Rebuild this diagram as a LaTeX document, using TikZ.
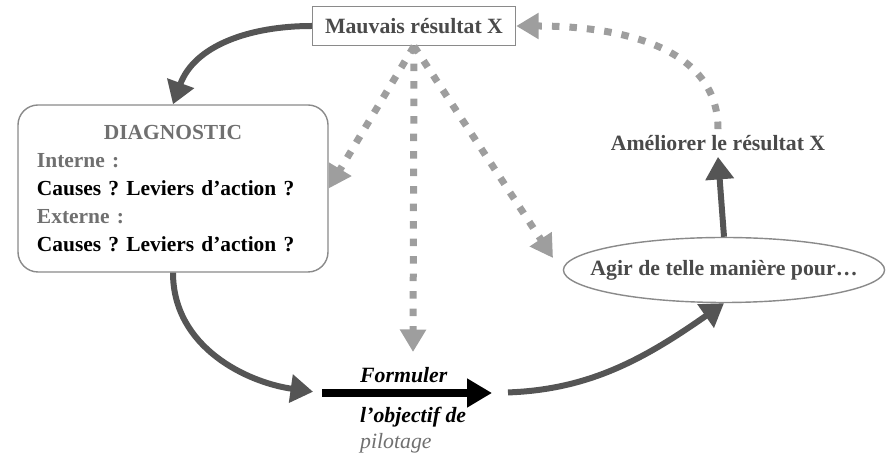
\documentclass[tikz,border=0pt]{standalone}
\usepackage{fontspec}
\setmainfont{Liberation Serif}
\usetikzlibrary{arrows.meta,shapes.geometric}
\definecolor{flowgray}{HTML}{555555}
\definecolor{hintgray}{HTML}{9E9E9E}
\definecolor{framegray}{HTML}{8A8A8A}
\definecolor{labelgray}{HTML}{4A4A4A}
\definecolor{softgray}{HTML}{707070}
\frenchspacing

\begin{document}
\begin{tikzpicture}[x=0.2mm, y=0.2mm,
  box/.style = {draw=framegray, line width=0.8pt, fill=white, text=labelgray, font=\bfseries\fontsize{12.4}{14}\selectfont},
  flow/.style = {draw=flowgray, line width=1.2mm, -{Triangle[length=4.5mm, width=5.5mm]}},
  hint/.style = {draw=hintgray, line width=1.4mm, dash pattern=on 1.5mm off 2mm, -{Triangle[length=4.5mm, width=5mm]}},
  goal/.style = {anchor=west, font=\bfseries\itshape\fontsize{12.4}{14}\selectfont}]
\useasboundingbox (0,0) rectangle (893,457);

\node[box, minimum width=4.06cm, minimum height=0.78cm] (mauvais) at (414,431) {Mauvais résultat X};
\node[box, rounded corners=4mm, minimum width=6.2cm, minimum height=3.34cm, text width=5.44cm, align=left, text=softgray, font=\bfseries\fontsize{12.2}{15.9}\selectfont] (diag) at (173,268.5)
  {\makebox[\linewidth]{DIAGNOSTIC}\\ Interne :\\ \textcolor{black}{Causes~? Leviers d’action~?}\\ Externe :\\ \textcolor{black}{Causes~? Leviers d’action~?}};
\node[box, ellipse, inner xsep=-0.4cm, minimum width=6.36cm, minimum height=1.3cm] (agir) at (724,187) {Agir de telle manière pour…};
\node[text=labelgray, font=\bfseries\fontsize{12.4}{14}\selectfont] (ameliorer) at (718,314) {Améliorer le résultat X};

\node[goal] (formuler) at (354,82) {Formuler};
\node[goal] (objectif) at (354,40) {l’objectif de};
\node[goal, font=\itshape\fontsize{12.4}{14}\selectfont, text=softgray] (pilotage) at (354,14) {pilotage};

\coordinate (fstart) at (322,64);
\coordinate (fend) at (492,64);
\coordinate (hintmid) at (413,105);
\coordinate (hintright) at (553,199);

\draw[flow] (mauvais.west) to[out=180, in=70] (diag.north);
\draw[flow, shorten >=1.8mm] (diag.south) to[out=-90, in=172] (fstart);
\draw[draw=black, line width=1.6mm, -{Triangle[length=5mm, width=5.5mm]}] (fstart) -- (fend);
\draw[flow, shorten <=3.2mm] (fend) to[out=2, in=215] (agir.south);
\draw[flow] (agir.north) -- (ameliorer.south);

\draw[hint] (ameliorer.north) to[out=90, in=0] (mauvais.east);
\draw[hint] (mauvais.south) -- (diag.east);
\draw[hint] (mauvais.south) -- (hintmid);
\draw[hint] (mauvais.south) -- (hintright);

\end{tikzpicture}
\end{document}
